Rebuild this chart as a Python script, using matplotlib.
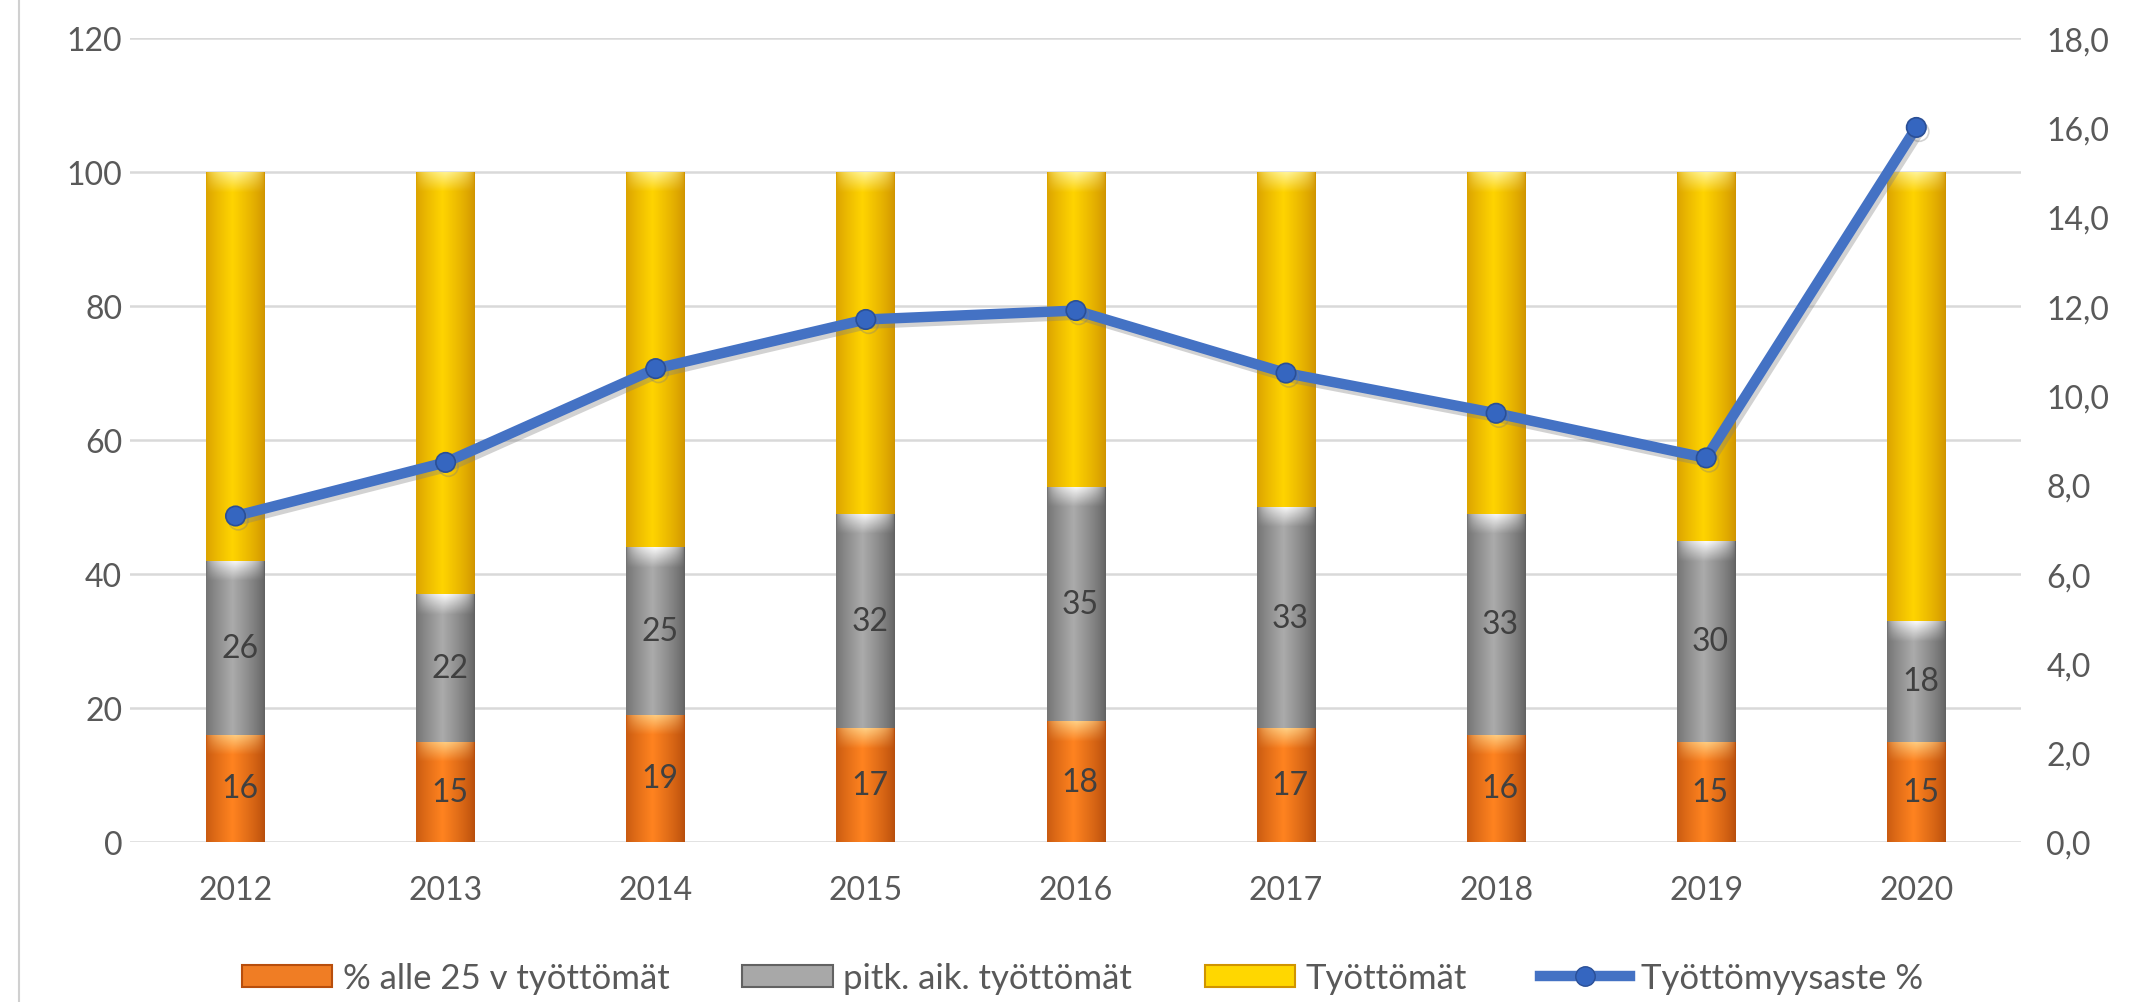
import numpy as np
import matplotlib
matplotlib.use('Agg')
import matplotlib.pyplot as plt
import matplotlib.patheffects as pe
from matplotlib.colors import to_rgb
from matplotlib.patches import Patch
from matplotlib.lines import Line2D

plt.rcParams['font.family'] = ['Lato', 'DejaVu Sans']

# data
years = ['2012', '2013', '2014', '2015', '2016', '2017', '2018', '2019', '2020']
alle25 = [16, 15, 19, 17, 18, 17, 16, 15, 15]          # % alle 25 v työttömät
pitk = [26, 22, 25, 32, 35, 33, 33, 30, 18]            # pitk. aik. työttömät
tyottomat = [58, 63, 56, 51, 47, 50, 51, 55, 67]       # Työttömät (loput sadasta)
aste = [7.3, 8.5, 10.6, 11.7, 11.9, 10.5, 9.6, 8.6, 16.0]  # Työttömyysaste %

left_ticks = [0, 20, 40, 60, 80, 100, 120]
right_ticks = [0, 2, 4, 6, 8, 10, 12, 14, 16, 18]
right_labels = ['0,0', '2,0', '4,0', '6,0', '8,0', '10,0', '12,0', '14,0', '16,0', '18,0']

txt = '#595959'
fs = 23


def shade(ax, patch, edge, mid, top):
    # vaakagradientti + vaalea yläreuna, leikattu pylvään muotoon
    x, y = patch.get_x(), patch.get_y()
    w, h = patch.get_width(), patch.get_height()
    t = np.linspace(0, 1, 60)
    prof = np.clip(1 - np.abs(t - 0.45) / 0.55, 0, 1) ** 0.8
    edge, mid, top = [np.array(to_rgb(c)) for c in (edge, mid, top)]
    row = edge + (mid - edge) * prof[:, None]
    ny = max(int(h * 12), 40)
    img = np.repeat(row[None, :, :], ny, axis=0)
    d = np.linspace(0, h, ny)
    f = np.clip(1 - d / 3.0, 0, 1)[:, None] * (1 - np.abs(2 * t - 1))[None, :] ** 0.5
    f = f * 0.95
    img = img * (1 - f[..., None]) + top * f[..., None]
    im = ax.imshow(img, extent=(x, x + w, y, y + h), origin='upper',
                   aspect='auto', zorder=2, interpolation='bilinear')
    im.set_clip_path(patch)


fig = plt.figure(figsize=(21.39, 10.03), dpi=100)
ax = fig.add_axes([0.061, 0.1595, 0.884, 0.8015])
ax2 = ax.twinx()

xs = np.arange(len(years))
bw = 0.28
bot2 = np.array(alle25)
bot3 = bot2 + np.array(pitk)

b1 = ax.bar(xs, alle25, bw, color='#B84E0C', zorder=2)
b2 = ax.bar(xs, pitk, bw, bottom=bot2, color='#666666', zorder=2)
b3 = ax.bar(xs, tyottomat, bw, bottom=bot3, color='#D09400', zorder=2)

for p in b1:
    shade(ax, p, '#B84E0C', '#FF8320', '#FFD48A')
for p in b2:
    shade(ax, p, '#626262', '#ABABAB', '#FFFFFF')
for p in b3:
    shade(ax, p, '#D09400', '#FFD400', '#FFF5A0')

for i in range(len(years)):
    ax.text(xs[i] + 0.02, alle25[i] / 2, str(alle25[i]), ha='center', va='center',
            fontsize=fs, color='#404040', zorder=4)
    ax.text(xs[i] + 0.02, bot2[i] + pitk[i] / 2, str(pitk[i]), ha='center', va='center',
            fontsize=fs, color='#404040', zorder=4)

ax.set_xlim(-0.5, len(years) - 0.5)
ax.set_ylim(0, 120)
ax.set_yticks(left_ticks)
ax.set_xticks(xs)
ax.set_xticklabels(years)
ax.set_axisbelow(True)
ax.yaxis.grid(True, color='#D9D9D9', lw=1.8, zorder=0)
ax.tick_params(axis='both', length=0, labelsize=fs, colors=txt)
ax.tick_params(axis='x', pad=24)
ax.tick_params(axis='y', pad=6)
for s in ax.spines.values():
    s.set_visible(False)

ax2.plot(xs, aste, color='#4472C4', lw=7.5, marker='o', markersize=14,
         markerfacecolor='#3566C0', markeredgecolor='#2A4F96', markeredgewidth=1.2,
         solid_capstyle='round', zorder=5,
         path_effects=[pe.SimpleLineShadow(offset=(2, -3), shadow_color='#7F7F7F', alpha=0.35),
                       pe.Normal()])
ax2.set_ylim(0, 18)
ax2.set_yticks(right_ticks)
ax2.set_yticklabels(right_labels)
ax2.tick_params(axis='y', length=0, labelsize=fs, colors=txt, pad=18)
for s in ax2.spines.values():
    s.set_visible(False)

handles = [
    Patch(facecolor='#F07D24', edgecolor='#B84E0C', lw=1.5),
    Patch(facecolor='#A8A8A8', edgecolor='#626262', lw=1.5),
    Patch(facecolor='#FFD700', edgecolor='#D09400', lw=1.5),
    Line2D([0], [0], color='#4472C4', lw=7.5, marker='o', markersize=14,
           markerfacecolor='#3566C0', markeredgecolor='#2A4F96'),
]
labels = ['% alle 25 v työttömät', 'pitk. aik. työttömät', 'Työttömät', 'Työttömyysaste %']
fig.legend(handles, labels, loc='center', bbox_to_anchor=(0.506, 0.024), ncol=4,
           frameon=False, fontsize=25, labelcolor=txt, handlelength=2.6,
           handleheight=0.6, handletextpad=0.3, columnspacing=2.1)

fig.add_artist(Line2D([0.009, 0.009], [0, 1], transform=fig.transFigure,
                      color='#D0D0D0', lw=1.5))

fig.savefig('out.png', dpi=100)
